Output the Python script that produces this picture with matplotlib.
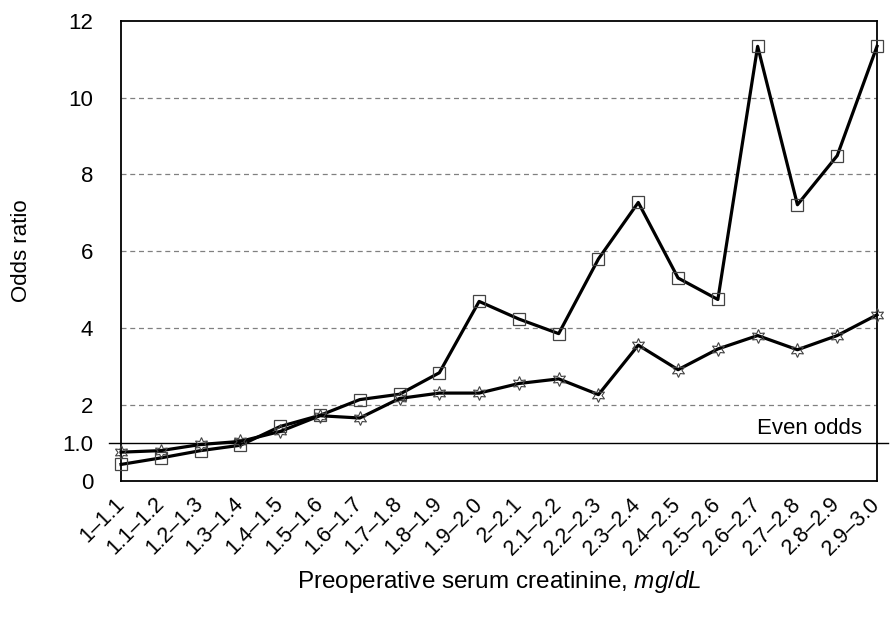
import numpy as np
import matplotlib
matplotlib.use("Agg")
import matplotlib.pyplot as plt

plt.rcParams['font.family'] = ['Liberation Sans', 'DejaVu Sans']
plt.rcParams['mathtext.fontset'] = 'custom'
plt.rcParams['mathtext.rm'] = 'Liberation Sans'
plt.rcParams['mathtext.it'] = 'Liberation Sans:italic'

# creatinine ranges (mg/dL)
categories = ['1\u20131.1', '1.1\u20131.2', '1.2\u20131.3', '1.3\u20131.4', '1.4\u20131.5',
              '1.5\u20131.6', '1.6\u20131.7', '1.7\u20131.8', '1.8\u20131.9', '1.9\u20132.0',
              '2\u20132.1', '2.1\u20132.2', '2.2\u20132.3', '2.3\u20132.4', '2.4\u20132.5',
              '2.5\u20132.6', '2.6\u20132.7', '2.7\u20132.8', '2.8\u20132.9', '2.9\u20133.0']

# odds ratios
odds_square = [0.44, 0.61, 0.80, 0.94, 1.43, 1.72, 2.13, 2.27, 2.83, 4.69,
               4.23, 3.85, 5.80, 7.27, 5.30, 4.74, 11.34, 7.21, 8.49, 11.34]
odds_star = [0.76, 0.80, 0.96, 1.04, 1.30, 1.71, 1.65, 2.16, 2.30, 2.30,
             2.55, 2.67, 2.26, 3.55, 2.91, 3.45, 3.80, 3.43, 3.80, 4.34]

y_ticks = [0, 1, 2, 4, 6, 8, 10, 12]
y_tick_labels = ['0', '1.0', '2', '4', '6', '8', '10', '12']
even_odds = 1.0

fig = plt.figure(figsize=(8.9, 6.2), dpi=100)
ax = fig.add_axes([0.136, 0.2237, 0.8494, 0.7424])

x = np.arange(len(categories))

# dashed grid
for yv in y_ticks:
    if yv >= 2 and yv < 12:
        ax.axhline(yv, color='#808080', lw=0.9, ls=(0, (4, 3)), zorder=1)

# even odds line, sticks out past the frame
ax.axhline(even_odds, xmin=-0.016, xmax=1.014, color='black', lw=1.0,
           clip_on=False, zorder=2)
ax.text(18.62, even_odds + 0.1, 'Even odds', ha='right', va='bottom', fontsize=16)

ax.plot(x, odds_square, color='black', lw=2.3, marker='s', markersize=8,
        mfc='none', mec='#444444', mew=0.9, zorder=3, clip_on=False)
ax.plot(x, odds_star, color='black', lw=2.3, marker=(6, 1, 0), markersize=10,
        mfc='none', mec='#444444', mew=0.8, zorder=3, clip_on=False)

ax.set_xlim(0, len(categories) - 1)
ax.set_ylim(0, 12)
ax.set_yticks(y_ticks)
ax.set_yticklabels(y_tick_labels, fontsize=16)
ax.set_xticks(x)
ax.set_xticklabels(categories, rotation=45, ha='right', va='center',
                   rotation_mode='anchor', fontsize=15.5)
ax.tick_params(axis='y', length=0, pad=20)
ax.tick_params(axis='x', length=0, pad=14)

for s in ax.spines.values():
    s.set_linewidth(1.3)
    s.set_color('black')

ax.set_ylabel('Odds ratio', fontsize=16, labelpad=22)
ax.set_xlabel(r'Preoperative serum creatinine, $\it{mg/dL}$', fontsize=17.5, labelpad=6)

fig.savefig('out.png', dpi=100)
